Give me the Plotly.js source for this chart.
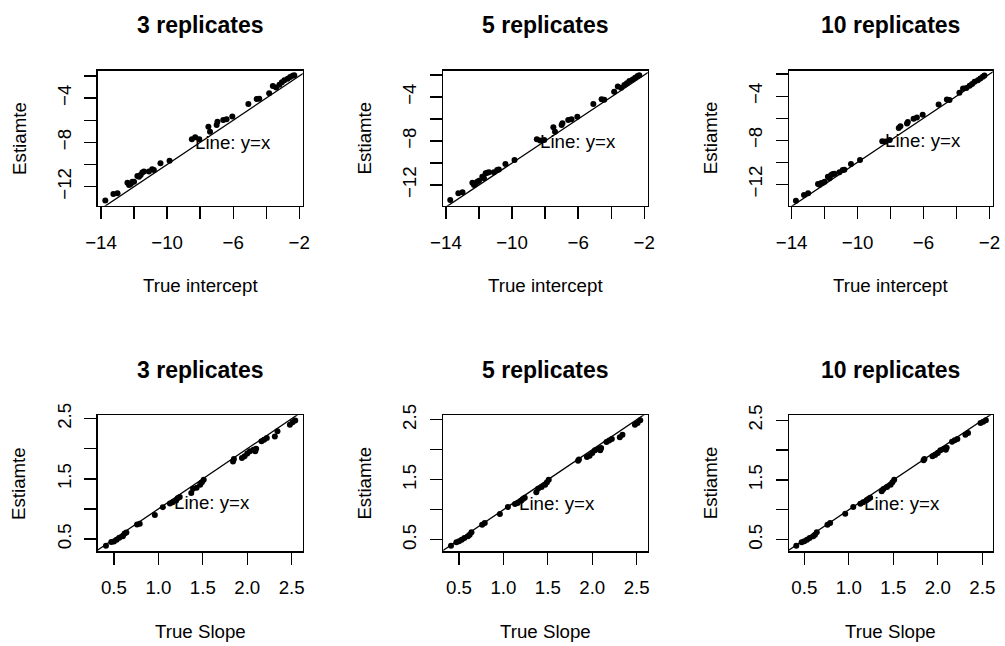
<!DOCTYPE html>
<html>
<head>
<meta charset="utf-8">
<script src="https://cdn.plot.ly/plotly-3.0.1.min.js"></script>
<style>
html,body{margin:0;padding:0;background:#fff;}
#chart{width:1005px;height:646px;}
</style>
</head>
<body>
<div id="chart"></div>
<script>
// ---------- data ----------
var panelTitles = ["3 replicates", "5 replicates", "10 replicates"];
var xTitleTop = "True intercept";
var xTitleBottom = "True Slope";
var yTitle = "Estiamte";
var lineLabel = "Line: y=x";

var trueIntercept = [-13.74, -13.25, -13.0, -12.4, -12.3, -12.2, -12.1, -12.0,
  -11.8, -11.7, -11.6, -11.5, -11.4, -11.1, -10.9, -10.8, -10.4, -9.85,
  -8.5, -8.3, -8.05, -7.5, -7.4, -7.0, -6.95, -6.6, -6.4, -6.05,
  -5.08, -4.58, -4.42, -3.82,
  -3.6, -3.4, -3.2, -3.05, -2.9, -2.7, -2.55, -2.4, -2.3];

var estIntercept3 = [-13.26, -12.66, -12.6, -11.64, -11.85, -11.76, -11.55, -11.55,
  -11.03, -11.1, -10.94, -10.73, -10.64, -10.64, -10.43, -10.5, -9.89, -9.65,
  -7.72, -7.54, -7.72, -6.58, -7.03, -6.43, -6.13, -5.97, -5.91, -5.67,
  -4.53, -4.08, -4.05, -3.56,
  -2.9, -3.03, -2.8, -2.56, -2.39, -2.24, -2.08, -1.97, -1.92];

var estIntercept5 = [-13.36, -12.75, -12.66, -11.79, -12.0, -11.85, -11.7, -11.61,
  -11.24, -11.39, -10.94, -10.88, -10.85, -10.85, -10.64, -10.6, -10.1, -9.73,
  -7.85, -7.95, -7.9, -6.75, -7.15, -6.55, -6.39, -6.09, -6.03, -5.79,
  -4.64, -4.2, -4.25, -3.52,
  -3.05, -3.15, -2.9, -2.75, -2.55, -2.4, -2.25, -2.1, -2.02];

var estIntercept10 = [-13.49, -12.97, -12.82, -11.97, -12.05, -11.88, -11.85, -11.76,
  -11.31, -11.45, -11.16, -11.07, -11.05, -10.9, -10.7, -10.68, -10.16, -9.8,
  -8.1, -8.12, -7.98, -6.9, -6.74, -6.47, -6.35, -6.05, -5.93, -5.69,
  -4.75, -4.3, -4.36, -3.69,
  -3.3, -3.25, -3.05, -2.9, -2.7, -2.55, -2.4, -2.25, -2.12];

var trueSlope = [0.41, 0.47, 0.5, 0.53, 0.56, 0.6, 0.62, 0.64, 0.76, 0.79,
  0.96, 1.05, 1.13, 1.16, 1.2, 1.22, 1.24, 1.37, 1.39, 1.43, 1.47, 1.49, 1.51,
  1.84, 1.85, 1.94, 1.97, 2.0, 2.03, 2.07, 2.09, 2.1, 2.16, 2.19, 2.22,
  2.31, 2.34, 2.48, 2.51, 2.54];

var estSlope3 = [0.39, 0.45, 0.46, 0.49, 0.52, 0.545, 0.59, 0.61, 0.74, 0.755,
  0.9, 1.03, 1.09, 1.11, 1.14, 1.18, 1.2, 1.265, 1.335, 1.35, 1.4, 1.445, 1.485,
  1.79, 1.83, 1.845, 1.875, 1.92, 1.96, 1.985, 1.96, 2.0, 2.125, 2.15, 2.18,
  2.205, 2.29, 2.4, 2.44, 2.47];

var estSlope5 = [0.40, 0.457, 0.473, 0.50, 0.528, 0.557, 0.583, 0.623, 0.75, 0.778,
  0.928, 1.045, 1.095, 1.112, 1.15, 1.178, 1.2, 1.29, 1.35, 1.378, 1.417, 1.457, 1.5,
  1.817, 1.835, 1.878, 1.9, 1.945, 1.99, 2.012, 1.99, 2.03, 2.128, 2.155, 2.178,
  2.207, 2.25, 2.417, 2.445, 2.49];

var estSlope10 = [0.40, 0.456, 0.473, 0.50, 0.528, 0.557, 0.584, 0.624, 0.751, 0.78,
  0.936, 1.048, 1.103, 1.126, 1.16, 1.182, 1.204, 1.31, 1.35, 1.383, 1.421, 1.461, 1.505,
  1.83, 1.852, 1.897, 1.919, 1.952, 1.997, 2.024, 2.008, 2.04, 2.142, 2.165, 2.187,
  2.259, 2.287, 2.455, 2.477, 2.5];

var xTickValsTop = [-14, -12, -10, -8, -6, -4, -2];
var xTickTextTop = ["\u221214", "", "\u221210", "", "\u22126", "", "\u22122"];
var yTickValsTop = [-12, -10, -8, -6, -4, -2];
var yTickTextTop = ["\u221212", "", "\u22128", "", "\u22124", ""];
var xTickValsBot = [0.5, 1.0, 1.5, 2.0, 2.5];
var xTickTextBot = ["0.5", "1.0", "1.5", "2.0", "2.5"];
var yTickValsBot = [0.5, 1.0, 1.5, 2.0, 2.5];
var yTickTextBot = ["0.5", "", "1.5", "", "2.5"];

// ---------- layout geometry (pixels) ----------
var W = 1005, H = 646;
var colPx = [[97.7, 302.7], [443.3, 647.7], [789, 992.7]];
var rowPx = [[70.7, 205.7], [415.3, 551.3]];
var xRanges = [[-14.2, -1.79], [-14.16, -1.79], [-14.16, -1.8],
               [0.317, 2.624], [0.323, 2.624], [0.328, 2.617]];
var yRanges = [[-13.72, -1.52], [-13.88, -1.61], [-13.94, -1.69],
               [0.296, 2.556], [0.307, 2.573], [0.305, 2.583]];

var FONT = "Liberation Sans, Arial, Helvetica, sans-serif";
var TICKSIZE = 18.7;

var panels = [
  {x: trueIntercept, y: estIntercept3},
  {x: trueIntercept, y: estIntercept5},
  {x: trueIntercept, y: estIntercept10},
  {x: trueSlope, y: estSlope3},
  {x: trueSlope, y: estSlope5},
  {x: trueSlope, y: estSlope10}
];

var traces = [];
var layout = {
  width: W, height: H,
  margin: {l: 0, r: 0, t: 0, b: 0},
  paper_bgcolor: "#ffffff",
  plot_bgcolor: "#ffffff",
  showlegend: false,
  font: {family: FONT, color: "#000", size: TICKSIZE},
  annotations: []
};

function px2x(p) { return p / W; }
function py2y(p) { return 1 - p / H; }

for (var i = 0; i < 6; i++) {
  var row = i < 3 ? 0 : 1;
  var col = i % 3;
  var sfx = i === 0 ? "" : String(i + 1);
  var xa = "x" + sfx, ya = "y" + sfx;
  var xr = xRanges[i], yr = yRanges[i];
  var lo = Math.min(xr[0], yr[0]) - 1, hi = Math.max(xr[1], yr[1]) + 1;

  traces.push({
    type: "scatter", mode: "lines",
    x: [lo, hi], y: [lo, hi],
    xaxis: xa, yaxis: ya,
    line: {color: "#000", width: 1.3},
    hoverinfo: "skip"
  });
  traces.push({
    type: "scatter", mode: "markers",
    x: panels[i].x, y: panels[i].y,
    xaxis: xa, yaxis: ya,
    marker: {color: "#000", size: 6},
    cliponaxis: false
  });

  var common = {
    showgrid: false, zeroline: false,
    showline: true, mirror: true, linecolor: "#000", linewidth: 1.4,
    ticks: "outside", ticklen: 12, tickwidth: 1.3, tickcolor: "#000",
    tickfont: {family: FONT, size: TICKSIZE, color: "#000"},
    fixedrange: true
  };
  var xax = Object.assign({}, common, {
    domain: [px2x(colPx[col][0]), px2x(colPx[col][1])],
    range: xr, anchor: ya,
    tickmode: "array",
    tickvals: row === 0 ? xTickValsTop : xTickValsBot,
    ticktext: row === 0 ? xTickTextTop : xTickTextBot,
    ticklabelstandoff: 7
  });
  var yax = Object.assign({}, common, {
    domain: [py2y(rowPx[row][1]), py2y(rowPx[row][0])],
    range: yr, anchor: xa,
    tickmode: "array",
    tickvals: row === 0 ? yTickValsTop : yTickValsBot,
    ticktext: row === 0 ? yTickTextTop : yTickTextBot,
    tickangle: -90,
    ticklabelstandoff: 6
  });
  layout["xaxis" + sfx] = xax;
  layout["yaxis" + sfx] = yax;

  var cx = (colPx[col][0] + colPx[col][1]) / 2;
  var cy = (rowPx[row][0] + rowPx[row][1]) / 2;
  // panel title
  layout.annotations.push({
    xref: "paper", yref: "paper", x: px2x(cx), y: py2y(rowPx[row][0] - 45.5),
    xanchor: "center", yanchor: "middle", showarrow: false,
    text: "<b>" + panelTitles[col] + "</b>",
    font: {family: FONT, size: 23, color: "#000"}
  });
  // x axis title
  layout.annotations.push({
    xref: "paper", yref: "paper", x: px2x(cx), y: py2y(rowPx[row][1] + 80),
    xanchor: "center", yanchor: "middle", showarrow: false,
    text: row === 0 ? xTitleTop : xTitleBottom,
    font: {family: FONT, size: TICKSIZE, color: "#000"}
  });
  // y axis title
  layout.annotations.push({
    xref: "paper", yref: "paper", x: px2x(colPx[col][0] - 79), y: py2y(cy),
    xanchor: "center", yanchor: "middle", showarrow: false, textangle: -90,
    text: yTitle,
    font: {family: FONT, size: TICKSIZE, color: "#000"}
  });
  // line label
  layout.annotations.push({
    xref: xa, yref: ya,
    x: row === 0 ? -6 : 1.6, y: row === 0 ? -8 : 1.1,
    xanchor: "center", yanchor: "middle", showarrow: false,
    text: lineLabel,
    font: {family: FONT, size: TICKSIZE, color: "#000"}
  });
}

Plotly.newPlot("chart", traces, layout, {displayModeBar: false, staticPlot: true});
</script>
</body>
</html>
